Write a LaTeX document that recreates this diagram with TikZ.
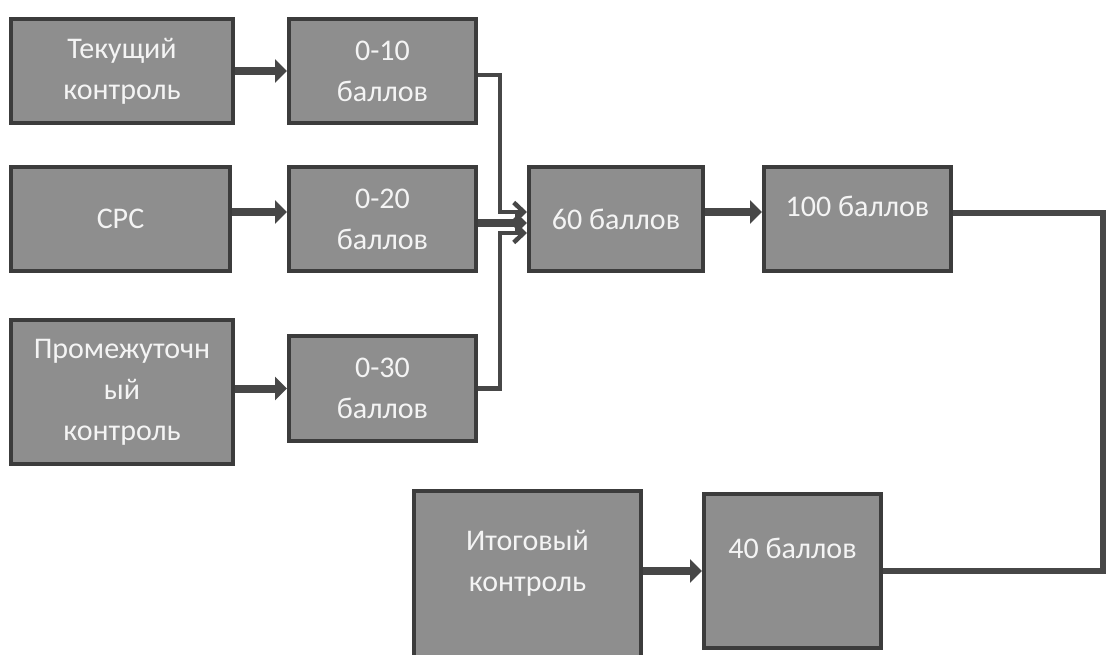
\documentclass[tikz,border=0pt]{standalone}
\usepackage{fontspec}
\setmainfont{Carlito}
\usetikzlibrary{arrows.meta}
\definecolor{boxfill}{HTML}{8E8E8E}
\definecolor{boxedge}{HTML}{3C3C3C}
\definecolor{conn}{HTML}{474747}
\definecolor{txtc}{HTML}{F4F4F4}
\begin{document}
\begin{tikzpicture}[x=1pt,y=-1pt,
 box/.style={draw=boxedge, fill=boxfill, line width=4.5pt, rectangle, inner sep=0pt, outer sep=2pt, text=txtc, font=\fontsize{30}{41}\selectfont, align=center},
 lbl/.style={text=txtc, font=\fontsize{30}{41}\selectfont, align=center, inner sep=0pt},
 fat/.style={draw=conn, line width=8pt, -{Triangle[length=12pt,width=23pt]}},
 slim/.style={draw=conn, line width=4.5pt, -{Straight Barb[length=10pt,width=19pt]}},
 link/.style={draw=conn, line width=6.5pt, line join=miter}]
\useasboundingbox (0,0) rectangle (1106,655);
\clip (0,0) rectangle (1106,655);
\fill[white] (0,0) rectangle (1106,655);
% boxes
\node[box, minimum width=222pt, minimum height=104pt] (A) at (122,71) {Текущий\\контроль};
\node[box, minimum width=187pt, minimum height=104pt] (B) at (382.5,71) {0-10\\баллов};
\node[box, minimum width=219pt, minimum height=104pt] (C) at (120.5,219) {СРС};
\node[box, minimum width=187pt, minimum height=104pt] (D) at (382.5,219) {0-20\\баллов};
\node[box, minimum width=222pt, minimum height=144pt] (E) at (122,392) {Промежуточн\\ый\\контроль};
\node[box, minimum width=187pt, minimum height=105pt] (F) at (382.5,388.5) {0-30\\баллов};
\node[box, minimum width=174pt, minimum height=104pt] (G) at (616,219) {60 баллов};
\node[box, minimum width=187pt, minimum height=104pt] (H) at (857.5,219) {};
\node[lbl] (Ht) at (857.5,206) {100 баллов};
\node[box, minimum width=227pt, minimum height=190pt] (I) at (527.5,586) {};
\node[lbl] (It) at (527.5,563) {Итоговый\\контроль};
\node[box, minimum width=177pt, minimum height=154pt] (J) at (792.5,571) {};
\node[lbl] (Jt) at (792.5,548) {40 баллов};
% helper coordinates
\coordinate (vx) at (500,0);
\coordinate (rc) at (1103,0);
\coordinate (g1) at ([yshift=7pt]G.west);
\coordinate (g2) at ([yshift=-4pt]G.west);
\coordinate (g3) at ([yshift=-14pt]G.west);
\coordinate (bo) at ([yshift=-4pt]B.east);
\coordinate (do) at ([yshift=-4pt]D.east);
% left arrows
\draw[fat] (A.east) -- (B.west);
\draw[fat] ([yshift=7pt]C.east) -- ([yshift=7pt]D.west);
\draw[fat] (F.west -| E.east) -- (F.west);
% into 60
\draw[slim] (bo) -| (g1 -| vx) -- (g1);
\draw[slim] (F.east) -| (g3 -| vx) -- (g3);
\draw[fat] (do) -- (g2);
% 60 -> 100
\draw[fat] ([yshift=7pt]G.east) -- ([yshift=7pt]H.west);
% bottom
\draw[fat] (J.west -| I.east) -- (J.west);
\draw[link] ([yshift=6pt]H.east) -- ([yshift=6pt]H.east -| rc) |- (J.east);
\end{tikzpicture}
\end{document}
